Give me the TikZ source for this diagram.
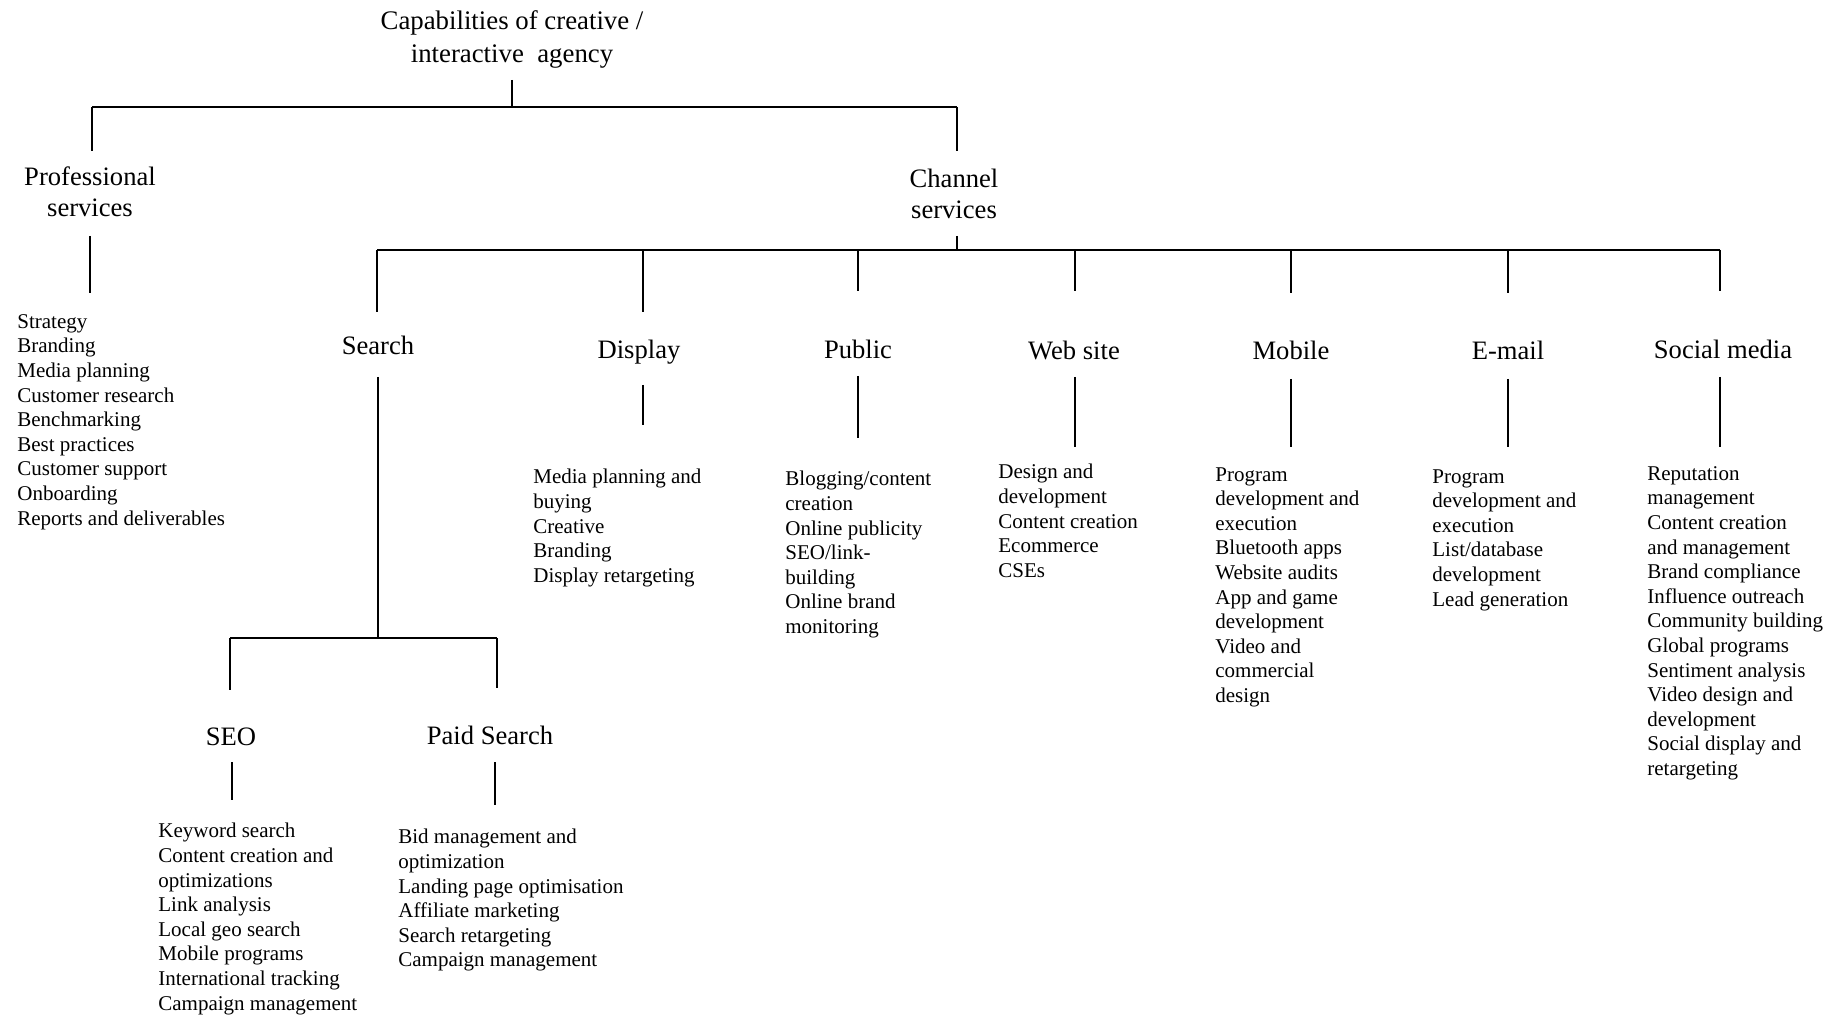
\documentclass[tikz,border=0pt]{standalone}
\usepackage{fontspec}
\setmainfont{Liberation Serif}
\begin{document}
\begin{tikzpicture}[x=0.5pt,y=-0.5pt,
  toptitle/.style={font=\fontsize{13.4}{16.5}\selectfont, align=center, inner sep=0pt},
  head/.style={font=\fontsize{13.3}{15.5}\selectfont, align=center, inner sep=0pt},
  items/.style={font=\fontsize{10.5}{12.3}\selectfont, align=left, inner sep=0pt, anchor=north west},
  stem/.style={line width=0.9pt},
  bus/.style={line width=1.3pt},
]
\useasboundingbox (0,0) rectangle (1843,1016);

% ---------- headings ----------
\node[toptitle] (root) at (512,39) {Capabilities of creative /\\interactive\ \ agency};
\node[head] (prof) at (90,192) {Professional\\services};
\node[head] (chan) at (954,194) {Channel\\services};
\node[head, anchor=base] (search) at (378,355) {Search};
\node[head, anchor=base] (display) at (639,358) {Display};
\node[head, anchor=base] (public) at (858,358) {Public};
\node[head, anchor=base] (web) at (1074,359) {Web site};
\node[head, anchor=base] (mobile) at (1291,360) {Mobile};
\node[head, anchor=base] (email) at (1508,360) {E-mail};
\node[head, anchor=base] (social) at (1723,358) {Social media};
\node[head, anchor=base] (seo) at (231,745) {SEO};
\node[head, anchor=base] (paid) at (490,744) {Paid Search};

% ---------- item lists ----------
\node[items] (profList) at (17,314) {Strategy\\Branding\\Media planning\\Customer research\\Benchmarking\\Best practices\\Customer support\\Onboarding\\Reports and deliverables};
\node[items] (displayList) at (533,469) {Media planning and\\buying\\Creative\\Branding\\Display retargeting};
\node[items] (publicList) at (785,471) {Blogging/content\\creation\\Online publicity\\SEO/link-\\building\\Online brand\\monitoring};
\node[items] (webList) at (998,464) {Design and\\development\\Content creation\\Ecommerce\\CSEs};
\node[items] (mobileList) at (1215,467) {Program\\development and\\execution\\Bluetooth apps\\Website audits\\App and game\\development\\Video and\\commercial\\design};
\node[items] (emailList) at (1432,469) {Program\\development and\\execution\\List/database\\development\\Lead generation};
\node[items] (socialList) at (1647,466) {Reputation\\management\\Content creation\\and management\\Brand compliance\\Influence outreach\\Community building\\Global programs\\Sentiment analysis\\Video design and\\development\\Social display and\\retargeting};
\node[items] (seoList) at (158,823) {Keyword search\\Content creation and\\optimizations\\Link analysis\\Local geo search\\Mobile programs\\International tracking\\Campaign management};
\node[items] (paidList) at (398,829) {Bid management and\\optimization\\Landing page optimisation\\Affiliate marketing\\Search retargeting\\Campaign management};

% ---------- junction points ----------
\coordinate (rootStem) at (512,80);
\coordinate (busTop) at (512,107);
\coordinate (busTopL) at (92,107);
\coordinate (busTopR) at (957,107);
\coordinate (profTop) at (92,151);
\coordinate (chanTop) at (957,151);
\coordinate (profBot) at (90,236);
\coordinate (profEnd) at (90,293);
\coordinate (chanBot) at (957,236);
\coordinate (busChan) at (957,250);
\coordinate (busChanL) at (377,250);
\coordinate (busChanR) at (1720,250);
\coordinate (busDisplay) at (643,250);
\coordinate (busPublic) at (858,250);
\coordinate (busWeb) at (1075,250);
\coordinate (busMobile) at (1291,250);
\coordinate (busEmail) at (1508,250);
\coordinate (searchTop) at (377,312);
\coordinate (displayTop) at (643,312);
\coordinate (publicTop) at (858,291);
\coordinate (webTop) at (1075,291);
\coordinate (mobileTop) at (1291,293);
\coordinate (emailTop) at (1508,293);
\coordinate (socialTop) at (1720,291);
\coordinate (searchBot) at (378,377);
\coordinate (busSub) at (378,638);
\coordinate (busSubL) at (230,638);
\coordinate (busSubR) at (497,638);
\coordinate (seoTop) at (230,690);
\coordinate (paidTop) at (497,688);
\coordinate (displayBot) at (643,385);
\coordinate (displayEnd) at (643,425);
\coordinate (publicBot) at (858,376);
\coordinate (publicEnd) at (858,438);
\coordinate (webBot) at (1075,377);
\coordinate (webEnd) at (1075,447);
\coordinate (mobileBot) at (1291,379);
\coordinate (mobileEnd) at (1291,447);
\coordinate (emailBot) at (1508,379);
\coordinate (emailEnd) at (1508,447);
\coordinate (socialBot) at (1720,377);
\coordinate (socialEnd) at (1720,447);
\coordinate (seoBot) at (232,762);
\coordinate (seoEnd) at (232,800);
\coordinate (paidBot) at (495,762);
\coordinate (paidEnd) at (495,805);

% ---------- connectors ----------
\draw[stem] (rootStem) -- (busTop);
\draw[bus] (busTopL) -- (busTopR);
\draw[stem] (busTopL) -- (profTop);
\draw[stem] (busTopR) -- (chanTop);
\draw[stem] (profBot) -- (profEnd);
\draw[stem] (chanBot) -- (busChan);
\draw[bus] (busChanL) -- (busChanR);
\draw[stem] (busChanL) -- (searchTop);
\draw[stem] (busDisplay) -- (displayTop);
\draw[stem] (busPublic) -- (publicTop);
\draw[stem] (busWeb) -- (webTop);
\draw[stem] (busMobile) -- (mobileTop);
\draw[stem] (busEmail) -- (emailTop);
\draw[stem] (busChanR) -- (socialTop);
\draw[stem] (searchBot) -- (busSub);
\draw[bus] (busSubL) -- (busSubR);
\draw[stem] (busSubL) -- (seoTop);
\draw[stem] (busSubR) -- (paidTop);
\draw[stem] (displayBot) -- (displayEnd);
\draw[stem] (publicBot) -- (publicEnd);
\draw[stem] (webBot) -- (webEnd);
\draw[stem] (mobileBot) -- (mobileEnd);
\draw[stem] (emailBot) -- (emailEnd);
\draw[stem] (socialBot) -- (socialEnd);
\draw[stem] (seoBot) -- (seoEnd);
\draw[stem] (paidBot) -- (paidEnd);
\end{tikzpicture}
\end{document}
